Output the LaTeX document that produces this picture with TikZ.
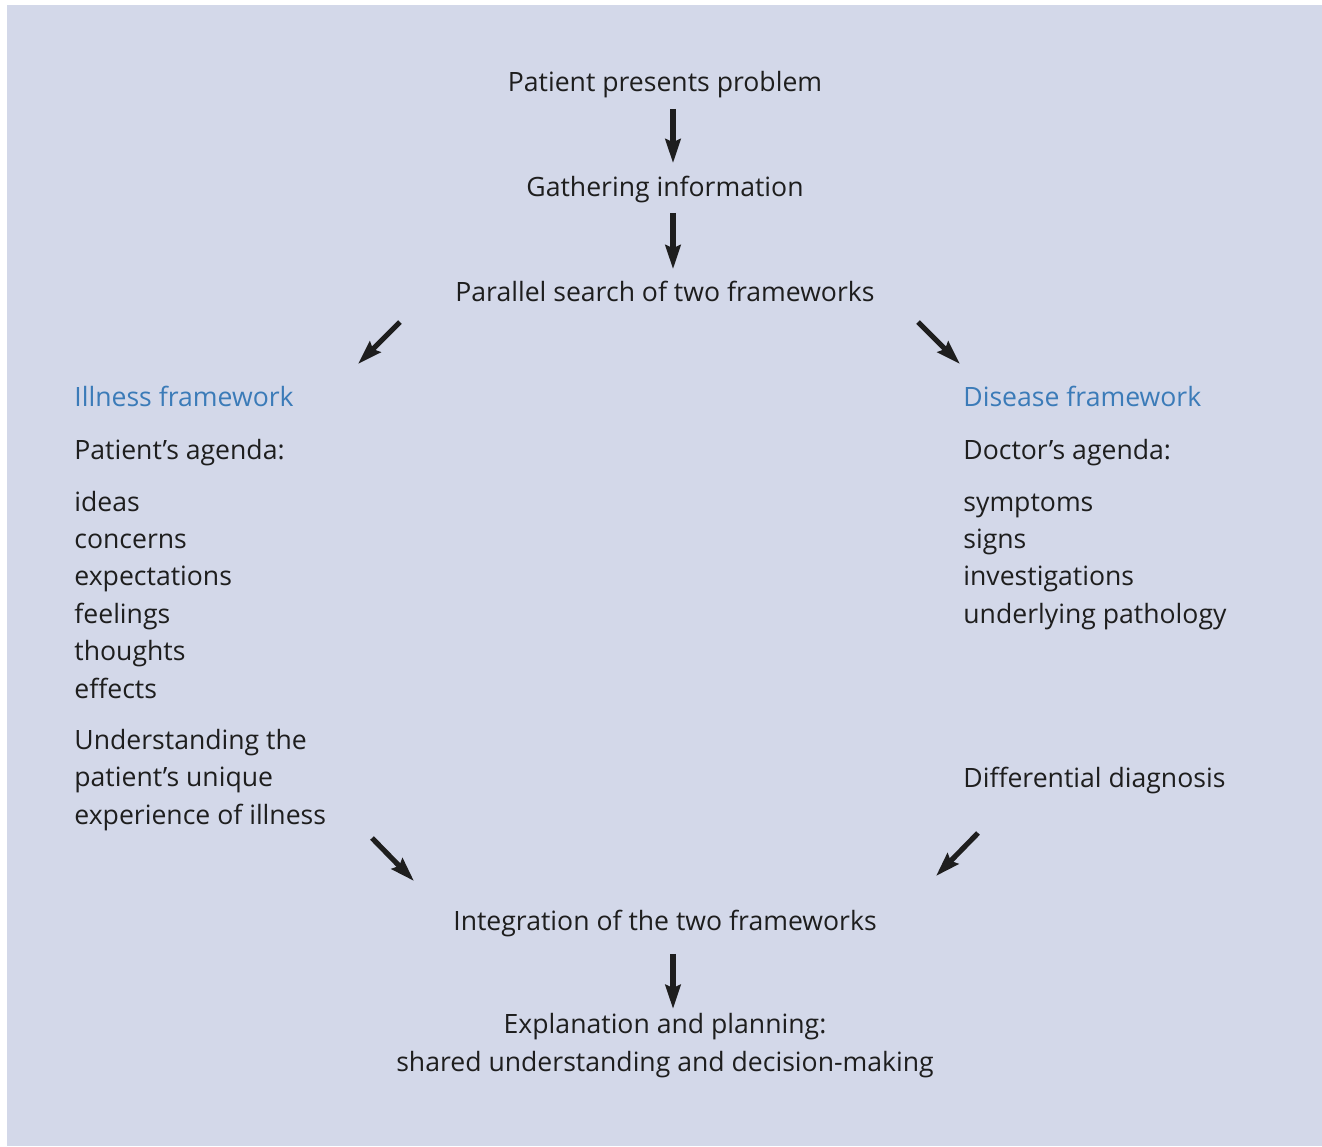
\documentclass[tikz,border=0pt]{standalone}
\usepackage{fontspec}
\setmainfont{Open Sans}
\usepackage{tikz}
\usetikzlibrary{arrows.meta}
\definecolor{panelblue}{HTML}{D3D8E9}
\definecolor{headblue}{HTML}{3B7BB8}
\definecolor{inkdark}{HTML}{1E1E1E}

\begin{document}
\begin{tikzpicture}[x=0.5pt,y=-0.5pt,
    txt/.style={inner sep=0pt, text=inkdark, font=\fontsize{13.3}{18.75}\selectfont},
    head/.style={txt, text=headblue},
    flow/.style={draw=inkdark, line width=2.6pt, -{Stealth[length=12pt,width=7.5pt,inset=1.5pt]}}]
        \useasboundingbox (0,0) rectangle (1322,1146);
        \fill[panelblue] (7,5) rectangle (1322,1146);
        % centre column
        \node[txt, anchor=base] (patient) at (665,91) {Patient presents problem};
        \node[txt, anchor=base] (gather) at (665,196) {Gathering information};
        \node[txt, anchor=base] (parallel) at (665,301) {Parallel search of two frameworks};
        \node[txt, anchor=base] (integ) at (665,930) {Integration of the two frameworks};
        \node[txt, anchor=north, align=center] (explain) at (665,1013)
            {Explanation and planning:\\shared understanding and decision-making};
        % illness side
        \node[head, anchor=base west] (illness) at (74,406) {Illness framework};
        \node[txt, anchor=base west] (pagenda) at (74,459) {Patient’s agenda:};
        \foreach \item [count=\i] in {ideas,concerns,expectations,feelings,thoughts,effects}{
            \node[txt, anchor=base west] (ill\i) at (74,{511+37.4*(\i-1)}) {\item};
        }
        \node[txt, anchor=west, align=left] (understand) at (74,780)
            {Understanding the\\patient’s unique\\experience of illness};
        % disease side
        \node[head, anchor=base west] (disease) at (963,406) {Disease framework};
        \node[txt, anchor=base west] (dagenda) at (963,459) {Doctor’s agenda:};
        \foreach \item [count=\i] in {symptoms,signs,investigations,underlying pathology}{
            \node[txt, anchor=base west] (dis\i) at (963,{511+37.4*(\i-1)}) {\item};
        }
        \node[txt, anchor=base west] (diff) at (963,787) {Differential diagnosis};
        % arrows
        \coordinate (splitL) at (400,322);
        \coordinate (illIn) at (358,364);
        \coordinate (splitR) at (918,322);
        \coordinate (disIn) at (960,364);
        \coordinate (illOut) at (372,838);
        \coordinate (joinL) at (414,881);
        \coordinate (disOut) at (978,833);
        \coordinate (joinR) at (936,876);
        \draw[flow, shorten <=5.5pt, shorten >=6pt] ([xshift=4pt]patient.south) -- ([xshift=4pt]gather.north);
        \draw[flow, shorten <=5pt, shorten >=5.5pt] ([xshift=4pt]gather.south) -- ([xshift=4pt]parallel.north);
        \draw[flow] (splitL) -- (illIn);
        \draw[flow] (splitR) -- (disIn);
        \draw[flow] (illOut) -- (joinL);
        \draw[flow] (disOut) -- (joinR);
        \draw[flow, shorten <=8.5pt, shorten >=2pt] ([xshift=4pt]integ.south) -- ([xshift=4pt]explain.north);
    \end{tikzpicture}
\end{document}
